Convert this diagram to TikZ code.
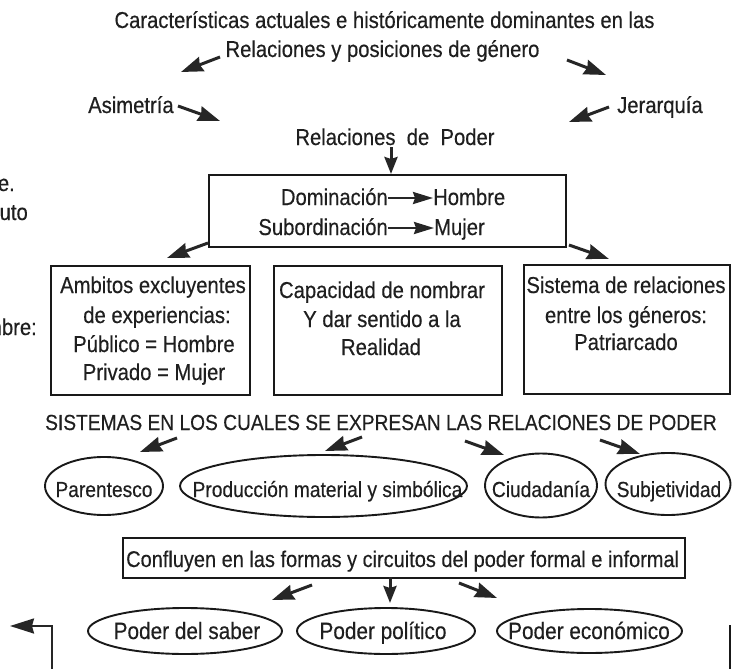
\documentclass[tikz,border=0pt]{standalone}
\usepackage{fontspec}
\setmainfont{Liberation Sans}[FakeStretch=0.88,FakeBold=0.35]
\usetikzlibrary{arrows.meta,shapes.geometric}
\newcommand\ftA{\fontsize{23.0}{27}\selectfont}
\newcommand\ftB{\fontsize{21.8}{27}\selectfont}
\newcommand\ftC{\fontsize{22.7}{27}\selectfont}
\newcommand\ftD{\fontsize{23.6}{27}\selectfont}
\begin{document}
\begin{tikzpicture}[x=1pt,y=-1pt,
  txt/.style={inner sep=0pt, text=black!88, font=\ftA},
  txtB/.style={txt, font=\ftB},
  txtC/.style={txt, font=\ftC},
  txtD/.style={txt, font=\ftD},
  boxn/.style={draw=black!90, line width=1.9pt, inner sep=0pt, rectangle},
  elln/.style={draw=black!90, line width=1.9pt, inner sep=0pt, ellipse},
  arr/.style={line width=3pt, draw=black!85, -{Stealth[length=22pt,width=15pt,inset=2pt]}},
  arrv/.style={line width=3pt, draw=black!85, -{Stealth[length=17pt,width=13pt,inset=2pt]}},
  arrs/.style={line width=2.4pt, draw=black!85, -{Stealth[length=20pt,width=12pt,inset=2pt]}},
  plain/.style={line width=1.9pt, draw=black!90}]
\useasboundingbox (0,0) rectangle (734,669);
\fill[white] (0,0) rectangle (734,669);

% title
\node[txt, anchor=base] (t1) at (384.5,28) {Características actuales e históricamente dominantes en las};
\node[txt, anchor=base] (t2) at (382.5,57) {Relaciones y posiciones de género};
\node[txt, anchor=base west] (asim) at (88,113) {Asimetría};
\node[txt, anchor=base west] (jer) at (617,113) {Jerarquía};
\node[txt, anchor=base] (rdp) at (395,145) {Relaciones\ \ de\ \ Poder};

% fragments at left edge
\node[txt, anchor=base east] (fr1) at (15,191) {te.};
\node[txt, anchor=base east] (fr2) at (28,220) {buto};
\node[txt, anchor=base east] (fr3) at (37,335) {mbre:};

% main box
\node[boxn, minimum width=357pt, minimum height=72pt] (mainbox) at (387.5,211) {};
\node[txt, anchor=base east] (dom) at (388,205) {Dominación};
\node[txt, anchor=base west] (hom) at (433,205) {Hombre};
\node[txt, anchor=base east] (sub) at (388,235) {Subordinación};
\node[txt, anchor=base west] (muj) at (434,235) {Mujer};
\draw[arrs] (dom.east |- 0,198) -- (hom.west |- 0,198);
\draw[arrs] (sub.east |- 0,228) -- (muj.west |- 0,228);

% three boxes
\node[boxn, minimum width=199pt, minimum height=129pt] (b1) at (150.5,330.5) {};
\node[boxn, minimum width=228pt, minimum height=129pt] (b2) at (388,330.5) {};
\node[boxn, minimum width=206pt, minimum height=129pt] (b3) at (627,329.5) {};

\node[txt, anchor=base] (b1l1) at (153,293) {Ambitos excluyentes};
\node[txt, anchor=base] (b1l2) at (157,323) {de experiencias:};
\node[txt, anchor=base] (b1l3) at (154,352) {Público = Hombre};
\node[txt, anchor=base] (b1l4) at (154,380) {Privado = Mujer};

\node[txt, anchor=base] (b2l1) at (382,298) {Capacidad de nombrar};
\node[txt, anchor=base] (b2l2) at (382,327) {Y dar sentido a la};
\node[txt, anchor=base] (b2l3) at (381,355) {Realidad};

\node[txt, anchor=base] (b3l1) at (626,293) {Sistema de relaciones};
\node[txt, anchor=base] (b3l2) at (626,323) {entre los géneros:};
\node[txt, anchor=base] (b3l3) at (626,350) {Patriarcado};

% systems line
\node[txtB, anchor=base] (sis) at (381,430) {SISTEMAS EN LOS CUALES SE EXPRESAN LAS RELACIONES DE PODER};

\node[elln, minimum width=118pt, minimum height=58pt] (e1) at (104,486) {};
\node[elln, minimum width=287pt, minimum height=62pt] (e2) at (323.5,486) {};
\node[elln, minimum width=112pt, minimum height=64pt] (e3) at (541,485.5) {};
\node[elln, minimum width=125pt, minimum height=62pt] (e4) at (668,484) {};
\node[txtB, anchor=base] (e1t) at (104,497) {Parentesco};
\node[txtB, anchor=base] (e2t) at (327.5,497) {Producción material y simbólica};
\node[txtB, anchor=base] (e3t) at (541,497) {Ciudadanía};
\node[txtB, anchor=base] (e4t) at (669,497) {Subjetividad};

% confluyen box
\node[boxn, minimum width=562pt, minimum height=40pt] (conf) at (404,558) {};
\node[txtC, anchor=base west] (conft) at (126,567) {Confluyen en las formas y circuitos del poder formal e informal};

\node[elln, minimum width=194pt, minimum height=46pt] (p1) at (185,631) {};
\node[elln, minimum width=178pt, minimum height=46pt] (p2) at (386,631) {};
\node[elln, minimum width=185pt, minimum height=44pt] (p3) at (589.5,631) {};
\node[txtD, anchor=base] (p1t) at (187,639) {Poder del saber};
\node[txtD, anchor=base] (p2t) at (383,639) {Poder político};
\node[txtD, anchor=base] (p3t) at (589,639) {Poder económico};

% arrow coordinates
\coordinate (a1s) at (220,57);  \coordinate (a1e) at (181,72);
\coordinate (a2s) at (567,60);  \coordinate (a2e) at (606,75);
\coordinate (a3s) at (178,106); \coordinate (a3e) at (220,121);
\coordinate (a4s) at (609,107); \coordinate (a4e) at (569,122);
\coordinate (a5s) at (391,147); \coordinate (a5e) at (391,174);
\coordinate (a6s) at (208,243); \coordinate (a6e) at (167,258);
\coordinate (a7s) at (569,245); \coordinate (a7e) at (609,259);
\coordinate (s1s) at (177,438); \coordinate (s1e) at (140,452);
\coordinate (s2s) at (362,437); \coordinate (s2e) at (325,451);
\coordinate (s3s) at (465,441); \coordinate (s3e) at (504,455);
\coordinate (s4s) at (600,440); \coordinate (s4e) at (640,454);
\coordinate (c1s) at (312,585); \coordinate (c1e) at (272,600);
\coordinate (c2s) at (390,577); \coordinate (c2e) at (390,603);
\coordinate (c3s) at (459,583); \coordinate (c3e) at (497,598);
\coordinate (bl1) at (52,680);  \coordinate (bl2) at (10,626);
\coordinate (br1) at (730,625); \coordinate (br2) at (730,680);

\foreach \a in {a1,a2,a3,a4,s1,s2,s3,s4,a6,a7,c1,c3}
  \draw[arr] (\a s) -- (\a e);
\draw[arrv] (a5s) -- (a5e);
\draw[arrv] (c2s) -- (c2e);
\draw[line width=2.2pt, draw=black!85, -{Stealth[length=24pt,width=15pt,inset=2pt]}] (bl1) |- (bl2);
\draw[plain] (br1) -- (br2);
\end{tikzpicture}
\end{document}
